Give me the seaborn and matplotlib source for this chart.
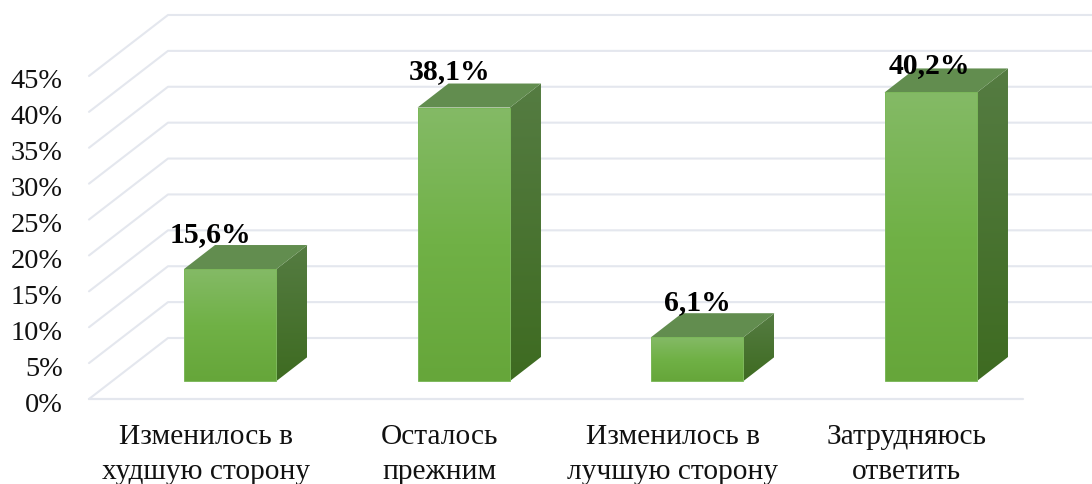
import numpy as np
import pandas as pd
import seaborn as sns
from matplotlib import pyplot as plt
from matplotlib.colors import LinearSegmentedColormap
from matplotlib.patches import Polygon
from matplotlib.transforms import Affine2D, IdentityTransform

categories = ['Изменилось в\nхудшую сторону', 'Осталось\nпрежним',
              'Изменилось в\nлучшую сторону', 'Затрудняюсь\nответить']
values = [15.6, 38.1, 6.1, 40.2]
value_labels = ['15,6%', '38,1%', '6,1%', '40,2%']
y_ticks = [0, 5, 10, 15, 20, 25, 30, 35, 40, 45]

# label shifts by hand (px), the labels were moved around in the original
label_dx = [-19.5, -14, 0, -1]
label_dy = [34, 36, 35, 27]

W, H = 1092, 484
FLOOR = (79, 61)      # depth of the floor / wall
BAR_POS = (24.5, 18)  # where the bars stand on the floor
DEPTH = (31, 24)      # depth of one bar
GRID = '#e4e7ee'

sns.set_theme(style='white')
plt.rcParams['font.family'] = ['Liberation Serif', 'DejaVu Serif']

fig = plt.figure(figsize=(W / 100, H / 100), dpi=100)
ax = fig.add_axes([89 / W, (H - 399) / H, 934 / W, 54 * 7.178 / H])

df = pd.DataFrame({'cat': categories, 'val': values})
sns.barplot(data=df, x='cat', y='val', width=0.396, ax=ax, zorder=4, errorbar=None)

ax.set_xlim(-0.5, 3.5)
ax.set_ylim(0, 54)
ax.set_autoscale_on(False)
ax.set_xlabel('')
ax.set_ylabel('')
ax.set_yticks(y_ticks)
ax.set_yticklabels([f'{t}%' for t in y_ticks], fontsize=20.4, color='#111111')
ax.tick_params(axis='y', length=0, pad=19)
ax.tick_params(axis='x', length=0, pad=18)
for lab in ax.get_xticklabels():
    lab.set_fontsize(21.2)
    lab.set_color('#111111')
    lab.set_linespacing(1.44)
for lab in ax.get_yticklabels():
    lab.set_transform(lab.get_transform() + Affine2D().translate(0, -3))
sns.despine(ax=ax, left=True, bottom=True, top=True, right=True)

px = IdentityTransform()

# wall and floor lines
x0 = ax.transData.transform((-0.5, 0))[0]
x1 = ax.transData.transform((3.5, 0))[0]
for t in y_ticks:
    y = ax.transData.transform((0, t))[1]
    ax.plot([x0, x0 + FLOOR[0], W + 5], [y, y + FLOOR[1], y + FLOOR[1]],
            transform=px, color=GRID, lw=1.5, clip_on=False, zorder=1)
y = ax.transData.transform((0, 0))[1]
ax.plot([x0, x1], [y, y], transform=px, color=GRID, lw=1.6, clip_on=False, zorder=1)


def shaded(pts, cols, z=3):
    pts = np.array(pts)
    cmap = LinearSegmentedColormap.from_list('g', cols)
    grad = np.linspace(0, 1, 128).reshape(-1, 1)
    im = ax.imshow(grad, cmap=cmap, aspect='auto', origin='upper', transform=px,
                   extent=[pts[:, 0].min(), pts[:, 0].max(), pts[:, 1].min(), pts[:, 1].max()],
                   zorder=z)
    im.set_clip_path(Polygon(pts, closed=True, transform=px))


shift = ax.transData + Affine2D().translate(*BAR_POS)
for i, bar in enumerate(list(ax.patches)):
    bar.set_transform(shift)
    bar.set_facecolor('none')
    bar.set_edgecolor('#7cb85a')
    bar.set_linewidth(0.7)

    (l, b), (r, t) = shift.transform(
        [(bar.get_x(), bar.get_y()), (bar.get_x() + bar.get_width(), bar.get_height())])
    dx, dy = DEPTH
    shaded([(l, b), (r, b), (r, t), (l, t)], ['#84ba66', '#70b146', '#66a63a'])
    shaded([(r, b), (r + dx, b + dy), (r + dx, t + dy), (r, t)], ['#557c42', '#3e6b21'])
    ax.add_patch(Polygon([(l, t), (r, t), (r + dx, t + dy), (l + dx, t + dy)], closed=True,
                         transform=px, facecolor='#628d4f', edgecolor='none', zorder=3))

    ax.text((l + r) / 2 + label_dx[i], t + label_dy[i], value_labels[i], transform=px,
            ha='center', va='center', fontsize=21.4, fontweight='bold', color='black',
            clip_on=False, zorder=6)

fig.savefig('out.png', dpi=100)
